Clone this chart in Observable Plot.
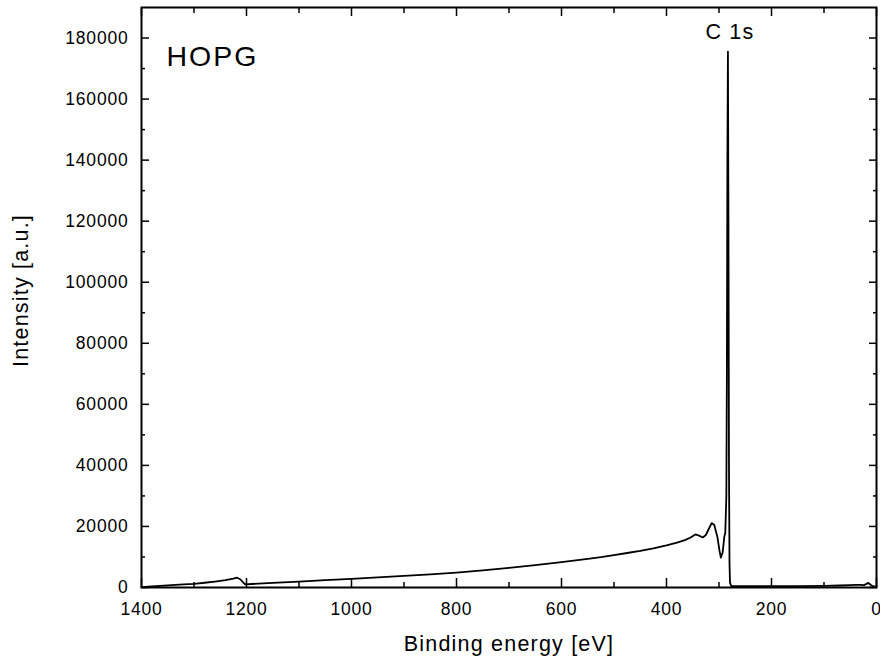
<!DOCTYPE html>
<html><head><meta charset="utf-8">
<script src="https://cdn.jsdelivr.net/npm/d3@7"></script>
<script src="https://cdn.jsdelivr.net/npm/@observablehq/plot@0.6"></script>
<style>
body{margin:0;background:#fff;}
#chart svg text{letter-spacing:0.8px;}
</style></head><body><div id="chart"></div>
<script>
const energy = [1400, 1380, 1350, 1320, 1300, 1280, 1260, 1240, 1225, 1218, 1212, 1206, 1202, 1190, 1150, 1100, 1050, 1000, 950, 900, 850, 800, 750, 700, 650, 600, 550, 525, 500, 475, 450, 425, 400, 380, 365, 355, 345, 338, 331, 325, 320, 314, 309, 303, 299, 296.5, 293, 290, 288, 286, 285, 284, 283, 282, 281, 280, 279, 277, 275, 260, 240, 200, 150, 100, 70, 50, 40, 30, 24, 20, 16.5, 13, 10, 8, 4, 0];
const intensity = [100, 350, 700, 1000, 1200, 1550, 1950, 2400, 2900, 3200, 2700, 1600, 1000, 1150, 1500, 1950, 2400, 2850, 3300, 3800, 4300, 4900, 5600, 6400, 7300, 8300, 9400, 9950, 10600, 11300, 12000, 12800, 13800, 14700, 15500, 16300, 17400, 17000, 16400, 17200, 19000, 21100, 20500, 16500, 12000, 9800, 11500, 16500, 18000, 30000, 70000, 140000, 175500, 120000, 40000, 8000, 1500, 600, 450, 420, 420, 450, 480, 520, 650, 800, 850, 850, 800, 1100, 1500, 1200, 700, 550, 400, 300];

const xMajor = [1400, 1200, 1000, 800, 600, 400, 200, 0];
const xMinor = [1300, 1100, 900, 700, 500, 300, 100];
const yMajor = [0, 20000, 40000, 60000, 80000, 100000, 120000, 140000, 160000, 180000];
const yMinor = [10000, 30000, 50000, 70000, 90000, 110000, 130000, 150000, 170000];

const sampleName = ["HOPG"];
const peakLabels = [{name: "C 1s", energy: 283}];
const xTitle = ["Binding energy [eV]"];
const yTitle = ["Intensity [a.u.]"];

const data = energy.map((e, i) => ({e, v: intensity[i]}));
const font = "'Liberation Sans', Arial, Helvetica, sans-serif";
const fmt = d => String(d);

const plot = Plot.plot({
  width: 880, height: 661,
  marginLeft: 141, marginRight: 4, marginTop: 7, marginBottom: 74,
  style: {fontFamily: font, fontSize: "17.5px", color: "#000", background: "#fff"},
  x: {domain: [1400, 0], label: null},
  y: {domain: [0, 190000], label: null},
  marks: [
    Plot.line(data, {x: "e", y: "v", stroke: "#000", strokeWidth: 1.8}),
    Plot.axisX(xMajor, {anchor: "bottom", tickSize: -9, tickPadding: 24, tickFormat: fmt, strokeWidth: 1.5, label: null, fontSize: 17.5}),
    Plot.axisX(xMinor, {anchor: "bottom", tickSize: -5, fill: "none", strokeWidth: 1.5, label: null}),
    Plot.axisX(xMajor, {anchor: "top", tickSize: -8, fill: "none", strokeWidth: 1.5, label: null}),
    Plot.axisX(xMinor, {anchor: "top", tickSize: -5, fill: "none", strokeWidth: 1.5, label: null}),
    Plot.axisY(yMajor, {anchor: "left", tickSize: -8, tickPadding: 21, tickFormat: fmt, strokeWidth: 1.5, label: null, fontSize: 17.5}),
    Plot.axisY(yMinor, {anchor: "left", tickSize: -4, fill: "none", strokeWidth: 1.5, label: null}),
    Plot.axisY(yMajor, {anchor: "right", tickSize: -8, fill: "none", strokeWidth: 1.5, label: null}),
    Plot.axisY(yMinor, {anchor: "right", tickSize: -4, fill: "none", strokeWidth: 1.5, label: null}),
    Plot.frame({stroke: "#000", strokeWidth: 2}),
    Plot.text(sampleName, {frameAnchor: "top-left", textAnchor: "start", lineAnchor: "top", dx: 25, dy: 38, fontSize: 28.5, fill: "#000"}),
    Plot.text(peakLabels, {x: "energy", text: "name", frameAnchor: "top", lineAnchor: "top", dx: 2, dy: 16, fontSize: 21.5, fill: "#000"}),
    Plot.text(xTitle, {frameAnchor: "bottom", lineAnchor: "top", dy: 48, fontSize: 21.5, fill: "#000"}),
    Plot.text(yTitle, {frameAnchor: "left", textAnchor: "middle", lineAnchor: "top", rotate: -90, dx: -129, dy: -7, fontSize: 21.5, fill: "#000"})
  ]
});
document.getElementById("chart").appendChild(plot);
d3.select(plot).selectAll("text").each(function() {
  const t = this.textContent;
  if (t === "HOPG") this.style.letterSpacing = "2px";
  else if (t === "C 1s" || t === xTitle[0] || t === yTitle[0]) this.style.letterSpacing = "1.2px";
});
</script></body></html>
